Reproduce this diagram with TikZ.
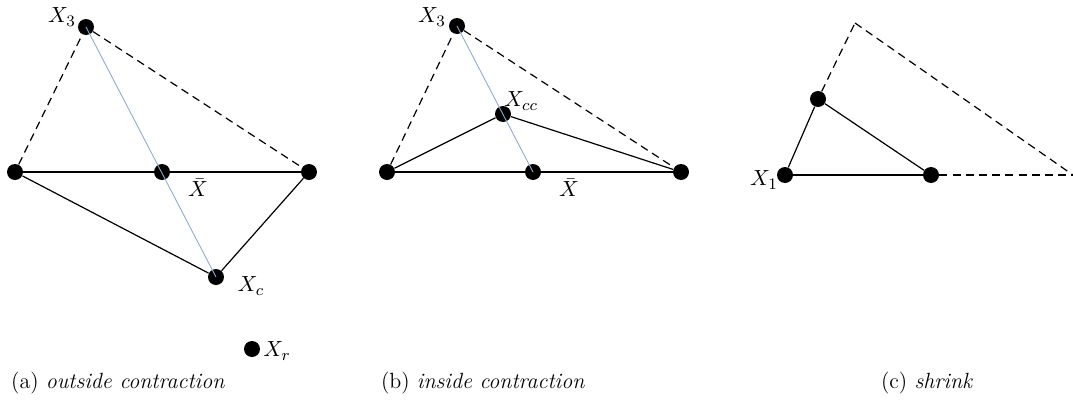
\documentclass[tikz,border=0pt]{standalone}
\usetikzlibrary{positioning}
\definecolor{medblue}{RGB}{140,172,210}
\tikzset{
  pt/.style    ={circle, fill=black, inner sep=0pt, minimum size=8pt},
  solidln/.style={draw=black, line width=0.6pt},
  dashln/.style ={solidln, dash pattern=on 4pt off 2.6pt},
  medln/.style  ={draw=medblue, line width=0.45pt},
  lbl/.style   ={font=\fontsize{11}{13}\selectfont, inner sep=0pt},
  captxt/.style={font=\fontsize{11}{13}\selectfont, inner sep=0pt},
}

\begin{document}
\begin{tikzpicture}[x=0.5pt, y=-0.5pt]
  \useasboundingbox (0,0) rectangle (1073,413);

  % (a) outside contraction
  \node[pt](a3) at (86,27){};
  \node[pt](a1) at (15,172){};
  \node[pt](am) at (162,172){};
  \node[pt](a2) at (309,172){};
  \node[pt](ac) at (216,277){};
  \node[pt](ar) at (252,349){};
  \draw[dashln](a1)--(a3); \draw[dashln](a3)--(a2);
  \draw[solidln](a1)--(a2); \draw[solidln](a1)--(ac); \draw[solidln](ac)--(a2);
  \draw[medln](a3.center)--(ac.center);
  \node[lbl](la3) at (62,17){$X_3$};
  \node[lbl](lam) at (198,188){$\bar{X}$};
  \node[lbl](lac) at (251,286){$X_c$};
  \node[lbl](lar) at (277,351){$X_r$};
  \node[captxt](capa) at (118,383){(a) \textit{outside contraction}};

  % (b) inside contraction
  \node[pt](b3) at (457,26){};
  \node[pt](b1) at (387,172){};
  \node[pt](bm) at (533,172){};
  \node[pt](b2) at (681,172){};
  \node[pt](bc) at (503,114){};
  \draw[dashln](b1)--(b3); \draw[dashln](b3)--(b2);
  \draw[solidln](b1)--(b2); \draw[solidln](b1)--(bc); \draw[solidln](bc)--(b2);
  \draw[medln](b3.center)--(bm.center);
  \node[lbl](lb3) at (432,17){$X_3$};
  \node[lbl](lbc) at (521,101){$X_{cc}$};
  \node[lbl](lbm) at (569,188){$\bar{X}$};
  \node[captxt](capb) at (483,383){(b) \textit{inside contraction}};

  % (c) shrink
  \coordinate(ctop) at (855,23);
  \coordinate(cend) at (1073,175);
  \node[pt](c1) at (785,175){};
  \node[pt](c3) at (818,99){};
  \node[pt](c2) at (931,175){};
  \draw[dashln](c3)--(ctop); \draw[dashln](ctop)--(cend); \draw[dashln](c2)--(cend);
  \draw[solidln](c1)--(c3); \draw[solidln](c3)--(c2); \draw[solidln](c1)--(c2);
  \node[lbl](lc1) at (764,180){$X_1$};
  \node[captxt](capc) at (927,383){(c) \textit{shrink}};
\end{tikzpicture}
\end{document}
